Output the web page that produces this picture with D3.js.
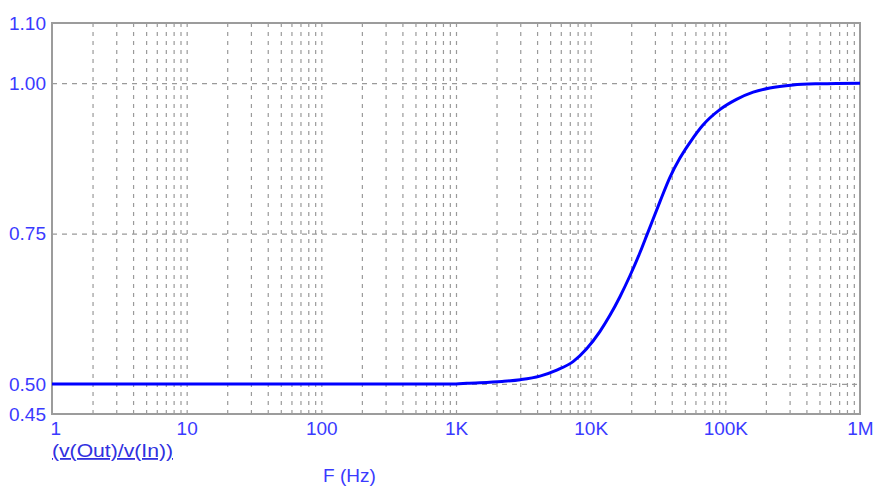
<!DOCTYPE html>
<html>
<head>
<meta charset="utf-8">
<script src="https://cdn.jsdelivr.net/npm/d3@7"></script>
<style>
  body { margin: 0; background: #ffffff; }
  svg { display: block; }
  .tickText text { font-family: "Liberation Sans", Arial, sans-serif; font-size: 19px; fill: #3a3aff; }
  .grid line { stroke: #9a9a9a; stroke-width: 1.2; }
  .grid .domain { display: none; }
</style>
</head>
<body>
<script>

// size of the page and of the plot area
var canvasX = 891;
var canvasY = 494;
var plotLeft = 52;
var plotRight = 860;
var plotTop = 23;
var plotBottom = 414;

// frequencies (Hz) and gain
var freqs = [1, 10, 100, 500, 1000, 1200, 2200, 3000, 4200, 5600, 7400, 9300,
             11700, 13900, 16500, 19500, 23200, 26300, 32700, 38700, 45900,
             56000, 68000, 91000, 121000, 161000, 214000, 318000, 500000, 1000000];
var gain = [0.5, 0.5, 0.5, 0.5, 0.5, 0.501, 0.504, 0.507, 0.513, 0.523, 0.537, 0.558,
            0.587, 0.614, 0.645, 0.679, 0.718, 0.749, 0.803, 0.843, 0.875,
            0.905, 0.930, 0.956, 0.973, 0.985, 0.992, 0.997, 0.999, 1.0];

// tick values and labels
var xTickValues = [1, 10, 100, 1000, 10000, 100000, 1000000];
var xTickLabels = ["1", "10", "100", "1K", "10K", "100K", "1M"];
var yTickValues = [1.10, 1.00, 0.75, 0.50, 0.45];
var yTickLabels = ["1.10", "1.00", "0.75", "0.50", "0.45"];
var yGridValues = [1.00, 0.75, 0.50];

// labels below the chart
var traceLabel = "(v(Out)/v(In))";
var xLabel = "F (Hz)";


window.onload = function() {

    var svg = d3.select("body")
                .append("svg")
                .attr("width", canvasX)
                .attr("height", canvasY);

    // log scale for frequency, linear for gain
    var scaleX = d3.scaleLog()
                   .domain([1, 1000000])
                   .range([plotLeft, plotRight]);

    var scaleY = d3.scaleLinear()
                   .domain([0.45, 1.10])
                   .range([plotBottom, plotTop]);

    // every 1..9 multiple of each decade gets a vertical grid line
    var xGridValues = [];
    for (var k = 0; k < 6; k++) {
        for (var m = 1; m < 10; m++) {
            var v = m * Math.pow(10, k);
            if (v > 1) xGridValues.push(v);
        }
    }

    // vertical grid
    svg.append("g")
       .attr("class", "grid")
       .attr("transform", "translate(0," + plotBottom + ")")
       .call(d3.axisBottom(scaleX).tickValues(xGridValues).tickFormat("")
               .tickSize(-(plotBottom - plotTop)).tickSizeOuter(0))
       .selectAll("line")
       .attr("stroke-dasharray", "4,5");

    // horizontal grid
    svg.append("g")
       .attr("class", "grid")
       .attr("transform", "translate(" + plotLeft + ",0)")
       .call(d3.axisLeft(scaleY).tickValues(yGridValues).tickFormat("")
               .tickSize(-(plotRight - plotLeft)).tickSizeOuter(0))
       .selectAll("line")
       .attr("stroke-dasharray", "5,5");

    // plot frame
    svg.append("rect")
       .attr("x", plotLeft)
       .attr("y", plotTop)
       .attr("width", plotRight - plotLeft)
       .attr("height", plotBottom - plotTop)
       .attr("fill", "none")
       .attr("stroke", "#9c9c9c")
       .attr("stroke-width", 2);

    // x tick labels
    var xAxis = svg.append("g")
       .attr("class", "tickText")
       .attr("transform", "translate(0," + plotBottom + ")")
       .call(d3.axisBottom(scaleX).tickValues(xTickValues)
               .tickFormat(function(d, i) { return xTickLabels[i]; })
               .tickSize(0).tickPadding(8));
    xAxis.select(".domain").remove();
    xAxis.selectAll(".tick").filter(function(d) { return d == 1; })
         .select("text").attr("text-anchor", "start").attr("x", -2);

    // y tick labels
    var yAxis = svg.append("g")
       .attr("class", "tickText")
       .attr("transform", "translate(" + plotLeft + ",0)")
       .call(d3.axisLeft(scaleY).tickValues(yTickValues)
               .tickFormat(function(d, i) { return yTickLabels[i]; })
               .tickSize(0).tickPadding(6));
    yAxis.select(".domain").remove();

    // the trace
    var line = d3.line()
                 .x(function(d, i) { return scaleX(freqs[i]); })
                 .y(function(d) { return scaleY(d); })
                 .curve(d3.curveMonotoneX);

    svg.append("path")
       .datum(gain)
       .attr("d", line)
       .attr("fill", "none")
       .attr("stroke", "#0000ff")
       .attr("stroke-width", 3);

    // trace name, underlined
    svg.append("text")
       .attr("x", plotLeft)
       .attr("y", 457)
       .attr("textLength", 121)
       .attr("lengthAdjust", "spacingAndGlyphs")
       .text(traceLabel)
       .style("font-family", "Liberation Sans, Arial, sans-serif")
       .style("font-size", "18px")
       .style("fill", "#3030e0")
       .style("text-decoration", "underline");

    // x axis title
    svg.append("text")
       .attr("x", 323)
       .attr("y", 482)
       .text(xLabel)
       .style("font-family", "Liberation Sans, Arial, sans-serif")
       .style("font-size", "19px")
       .style("fill", "#3a3aff");
};

</script>
</body>
</html>
